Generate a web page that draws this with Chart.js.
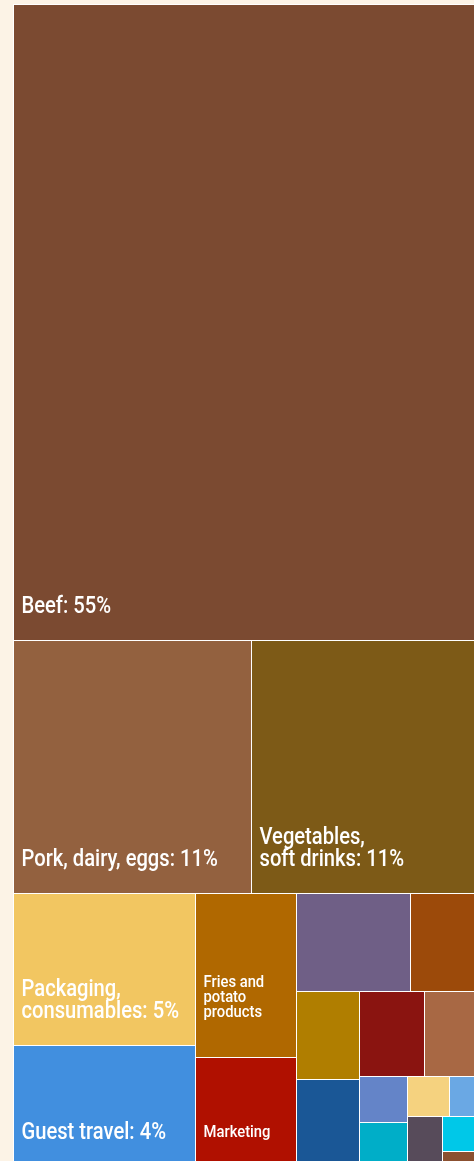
<!DOCTYPE html>
<html>
<head>
<meta charset="utf-8">
<script src="https://cdn.jsdelivr.net/npm/chart.js@4"></script>
<style>
  html, body { margin: 0; padding: 0; background: #fcf3e6; overflow: hidden; }
  #wrap { width: 474px; height: 1170px; }
  canvas { display: block; }
</style>
</head>
<body>
<div id="wrap"><canvas id="tree" width="474" height="1170"></canvas></div>
<script>
// share of emissions, %
const categories = [
  'Beef', 'Pork, dairy, eggs', 'Vegetables, soft drinks', 'Packaging, consumables',
  'Guest travel', 'Fries and potato products', 'Marketing', 'Other 1', 'Other 2',
  'Other 3', 'Other 4', 'Other 5', 'Other 6', 'Other 7', 'Other 8', 'Other 9',
  'Other 10', 'Other 11', 'Other 12', 'Other 13'
];
const values = [
  54.73, 11.24, 10.53, 5.16, 4.11, 3.09, 2.06, 2.09, 1.17, 1.03,
  1.02, 1.03, 0.79, 0.42, 0.40, 0.31, 0.19, 0.32, 0.21, 0.09
];
const colors = [
  '#7b4a31', '#93613f', '#7d5a17', '#f2c661', '#418fdf', '#b06800', '#b01000',
  '#6f5f86', '#9c4a0a', '#b07e00', '#1a5796', '#8a1410', '#a86844', '#6484c8',
  '#00aec8', '#f5d27f', '#6aa8e4', '#574b5a', '#00c8e8', '#8b5030'
];
// text shown in the cells (null = no label)
const cellLabels = [
  'Beef: 55%', 'Pork, dairy, eggs: 11%', 'Vegetables,\nsoft drinks: 11%',
  'Packaging,\nconsumables: 5%', 'Guest travel: 4%', 'Fries and\npotato\nproducts',
  'Marketing', null, null, null, null, null, null, null, null, null, null, null, null, null
];
const smallLabels = ['Fries and potato products', 'Marketing'];

const FONT = 'Roboto, "DejaVu Sans Condensed", sans-serif';

// squarified layout (same steps as d3.treemapSquarify, ratio 1), in data units;
// kx/ky turn data units into pixels so the aspect tests use the real shape
function squarify(items, x0, y0, x1, y1, kx, ky) {
  const out = [];
  let value = items.reduce((s, d) => s + d.value, 0);
  let i0 = 0, i1 = 0;
  const n = items.length;
  while (i0 < n) {
    const dx = (x1 - x0) * kx, dy = (y1 - y0) * ky;
    let sum = items[i1++].value;
    let min = sum, max = sum;
    const alpha = Math.max(dy / dx, dx / dy) / value;
    let beta = sum * sum * alpha;
    let minRatio = Math.max(max / beta, beta / min);
    for (; i1 < n; i1++) {
      const v = items[i1].value;
      sum += v;
      if (v < min) min = v;
      if (v > max) max = v;
      beta = sum * sum * alpha;
      const r = Math.max(max / beta, beta / min);
      if (r > minRatio) { sum -= v; break; }
      minRatio = r;
    }
    const row = items.slice(i0, i1);
    if (dx < dy) {
      const yb = i1 >= n ? y1 : y0 + (y1 - y0) * sum / value;
      let x = x0;
      row.forEach((d) => {
        const w = (x1 - x0) * d.value / sum;
        out.push(Object.assign({}, d, { x0: x, x1: x + w, y0: y0, y1: yb }));
        x += w;
      });
      y0 = yb;
    } else {
      const xb = i1 >= n ? x1 : x0 + (x1 - x0) * sum / value;
      let y = y0;
      row.forEach((d) => {
        const h = (y1 - y0) * d.value / sum;
        out.push(Object.assign({}, d, { x0: x0, x1: xb, y0: y, y1: y + h }));
        y += h;
      });
      x0 = xb;
    }
    value -= sum;
    i0 = i1;
  }
  return out;
}

const treemapPlugin = {
  id: 'treemap',
  beforeDatasetsDraw(chart) {
    const { ctx } = chart;
    const xs = chart.scales.x, ys = chart.scales.y;
    const kx = Math.abs(xs.getPixelForValue(100) - xs.getPixelForValue(0)) / 100;
    const ky = Math.abs(ys.getPixelForValue(100) - ys.getPixelForValue(0)) / 100;
    const items = categories.map((name, i) => ({ name, value: values[i], color: colors[i], label: cellLabels[i] }));
    const cells = squarify(items, 0, 0, 100, 100, kx, ky);

    ctx.save();
    cells.forEach((c) => {
      const left = Math.round(xs.getPixelForValue(c.x0));
      const right = Math.round(xs.getPixelForValue(c.x1));
      const top = Math.round(ys.getPixelForValue(c.y0));
      const bottom = Math.round(ys.getPixelForValue(c.y1));
      c.px = { left, right, top, bottom };
      ctx.fillStyle = c.color;
      ctx.fillRect(left, top, right - left, bottom - top);
      ctx.strokeStyle = '#ffffff';
      ctx.lineWidth = 1;
      ctx.strokeRect(left + 0.5, top + 0.5, right - left, bottom - top);
    });

    // labels, anchored bottom left; squeezed sideways for a condensed look
    ctx.fillStyle = '#ffffff';
    ctx.textAlign = 'left';
    ctx.textBaseline = 'alphabetic';
    cells.forEach((c) => {
      if (!c.label) return;
      const small = smallLabels.includes(c.name);
      const size = small ? 17 : 24;
      const lh = small ? 15 : 22;
      const squeeze = small ? 0.87 : 0.84;
      let pad = small ? 29 : 27;
      if (c.name === 'Fries and potato products') pad = 40;
      ctx.font = `500 ${size}px ${FONT}`;
      const lines = c.label.split('\n');
      const baseLast = c.px.bottom - pad;
      lines.forEach((line, i) => {
        ctx.save();
        ctx.translate(c.px.left + 8.5, baseLast - (lines.length - 1 - i) * lh);
        ctx.scale(squeeze, 1);
        ctx.fillText(line, 0, 0);
        ctx.restore();
      });
    });
    ctx.restore();
  }
};

new Chart(document.getElementById('tree'), {
  type: 'scatter',
  data: { datasets: [{ data: [] }] },
  options: {
    responsive: false,
    animation: false,
    devicePixelRatio: 1,
    layout: { padding: { left: 13, top: 4, right: 0, bottom: 4 } },
    scales: {
      x: { display: false, min: 0, max: 100 },
      y: { display: false, min: 0, max: 100, reverse: true }
    },
    plugins: { legend: { display: false }, tooltip: { enabled: false } }
  },
  plugins: [treemapPlugin]
});
</script>
</body>
</html>
